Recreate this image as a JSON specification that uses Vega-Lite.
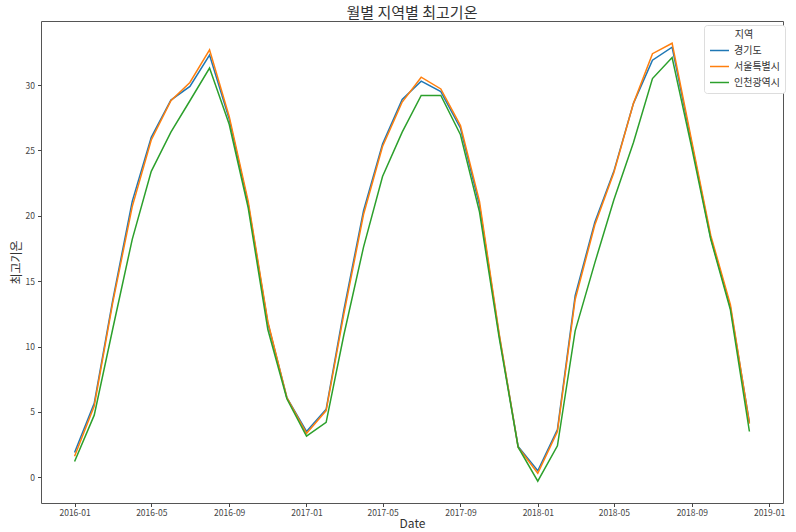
{
  "$schema": "https://vega.github.io/schema/vega-lite/v6.json",
  "width": 742,
  "height": 482,
  "autosize": {"type": "none"},
  "padding": {"left": 41, "top": 21, "right": 13, "bottom": 29},
  "background": "white",
  "config": {
    "font": "Noto Sans CJK KR",
    "view": {"stroke": "#555555", "strokeWidth": 1}
  },
  "title": {
    "text": "월별 지역별 최고기온",
    "fontSize": 15,
    "fontWeight": "normal",
    "color": "#333333",
    "anchor": "middle",
    "offset": 3,
    "dy": 3,
    "font": "Noto Sans CJK KR"
  },
  "datasets": {
    "temps": [
      {"date": "2016-01-01", "region": "경기도", "value": 1.9},
      {"date": "2016-02-01", "region": "경기도", "value": 5.65},
      {"date": "2016-03-01", "region": "경기도", "value": 13.5},
      {"date": "2016-04-01", "region": "경기도", "value": 21.1},
      {"date": "2016-05-01", "region": "경기도", "value": 26.0},
      {"date": "2016-06-01", "region": "경기도", "value": 28.85},
      {"date": "2016-07-01", "region": "경기도", "value": 29.9},
      {"date": "2016-08-01", "region": "경기도", "value": 32.3},
      {"date": "2016-09-01", "region": "경기도", "value": 27.4},
      {"date": "2016-10-01", "region": "경기도", "value": 20.9},
      {"date": "2016-11-01", "region": "경기도", "value": 11.8},
      {"date": "2016-12-01", "region": "경기도", "value": 6.1},
      {"date": "2017-01-01", "region": "경기도", "value": 3.5},
      {"date": "2017-02-01", "region": "경기도", "value": 5.2},
      {"date": "2017-03-01", "region": "경기도", "value": 12.8},
      {"date": "2017-04-01", "region": "경기도", "value": 20.4},
      {"date": "2017-05-01", "region": "경기도", "value": 25.5},
      {"date": "2017-06-01", "region": "경기도", "value": 28.9},
      {"date": "2017-07-01", "region": "경기도", "value": 30.3},
      {"date": "2017-08-01", "region": "경기도", "value": 29.5},
      {"date": "2017-09-01", "region": "경기도", "value": 26.7},
      {"date": "2017-10-01", "region": "경기도", "value": 20.8},
      {"date": "2017-11-01", "region": "경기도", "value": 10.9},
      {"date": "2017-12-01", "region": "경기도", "value": 2.35},
      {"date": "2018-01-01", "region": "경기도", "value": 0.5},
      {"date": "2018-02-01", "region": "경기도", "value": 3.65},
      {"date": "2018-03-01", "region": "경기도", "value": 13.9},
      {"date": "2018-04-01", "region": "경기도", "value": 19.5},
      {"date": "2018-05-01", "region": "경기도", "value": 23.4},
      {"date": "2018-06-01", "region": "경기도", "value": 28.6},
      {"date": "2018-07-01", "region": "경기도", "value": 31.9},
      {"date": "2018-08-01", "region": "경기도", "value": 32.9},
      {"date": "2018-09-01", "region": "경기도", "value": 25.5},
      {"date": "2018-10-01", "region": "경기도", "value": 18.3},
      {"date": "2018-11-01", "region": "경기도", "value": 13.0},
      {"date": "2018-12-01", "region": "경기도", "value": 4.2},
      {"date": "2016-01-01", "region": "서울특별시", "value": 1.6},
      {"date": "2016-02-01", "region": "서울특별시", "value": 5.45},
      {"date": "2016-03-01", "region": "서울특별시", "value": 13.3},
      {"date": "2016-04-01", "region": "서울특별시", "value": 20.7},
      {"date": "2016-05-01", "region": "서울특별시", "value": 25.8},
      {"date": "2016-06-01", "region": "서울특별시", "value": 28.8},
      {"date": "2016-07-01", "region": "서울특별시", "value": 30.2},
      {"date": "2016-08-01", "region": "서울특별시", "value": 32.7},
      {"date": "2016-09-01", "region": "서울특별시", "value": 27.6},
      {"date": "2016-10-01", "region": "서울특별시", "value": 21.1},
      {"date": "2016-11-01", "region": "서울특별시", "value": 11.9},
      {"date": "2016-12-01", "region": "서울특별시", "value": 6.1},
      {"date": "2017-01-01", "region": "서울특별시", "value": 3.35},
      {"date": "2017-02-01", "region": "서울특별시", "value": 5.1},
      {"date": "2017-03-01", "region": "서울특별시", "value": 12.5},
      {"date": "2017-04-01", "region": "서울특별시", "value": 20.1},
      {"date": "2017-05-01", "region": "서울특별시", "value": 25.3},
      {"date": "2017-06-01", "region": "서울특별시", "value": 28.7},
      {"date": "2017-07-01", "region": "서울특별시", "value": 30.6},
      {"date": "2017-08-01", "region": "서울특별시", "value": 29.7},
      {"date": "2017-09-01", "region": "서울특별시", "value": 26.9},
      {"date": "2017-10-01", "region": "서울특별시", "value": 21.1},
      {"date": "2017-11-01", "region": "서울특별시", "value": 11.0},
      {"date": "2017-12-01", "region": "서울특별시", "value": 2.3},
      {"date": "2018-01-01", "region": "서울특별시", "value": 0.3},
      {"date": "2018-02-01", "region": "서울특별시", "value": 3.5},
      {"date": "2018-03-01", "region": "서울특별시", "value": 13.6},
      {"date": "2018-04-01", "region": "서울특별시", "value": 19.3},
      {"date": "2018-05-01", "region": "서울특별시", "value": 23.3},
      {"date": "2018-06-01", "region": "서울특별시", "value": 28.6},
      {"date": "2018-07-01", "region": "서울특별시", "value": 32.4},
      {"date": "2018-08-01", "region": "서울특별시", "value": 33.2},
      {"date": "2018-09-01", "region": "서울특별시", "value": 25.7},
      {"date": "2018-10-01", "region": "서울특별시", "value": 18.5},
      {"date": "2018-11-01", "region": "서울특별시", "value": 13.2},
      {"date": "2018-12-01", "region": "서울특별시", "value": 4.1},
      {"date": "2016-01-01", "region": "인천광역시", "value": 1.2},
      {"date": "2016-02-01", "region": "인천광역시", "value": 4.75},
      {"date": "2016-03-01", "region": "인천광역시", "value": 11.3},
      {"date": "2016-04-01", "region": "인천광역시", "value": 18.2},
      {"date": "2016-05-01", "region": "인천광역시", "value": 23.4},
      {"date": "2016-06-01", "region": "인천광역시", "value": 26.4},
      {"date": "2016-07-01", "region": "인천광역시", "value": 28.8},
      {"date": "2016-08-01", "region": "인천광역시", "value": 31.3},
      {"date": "2016-09-01", "region": "인천광역시", "value": 27.0},
      {"date": "2016-10-01", "region": "인천광역시", "value": 20.6},
      {"date": "2016-11-01", "region": "인천광역시", "value": 11.3},
      {"date": "2016-12-01", "region": "인천광역시", "value": 6.0},
      {"date": "2017-01-01", "region": "인천광역시", "value": 3.15},
      {"date": "2017-02-01", "region": "인천광역시", "value": 4.2},
      {"date": "2017-03-01", "region": "인천광역시", "value": 10.9},
      {"date": "2017-04-01", "region": "인천광역시", "value": 17.6},
      {"date": "2017-05-01", "region": "인천광역시", "value": 23.0},
      {"date": "2017-06-01", "region": "인천광역시", "value": 26.4},
      {"date": "2017-07-01", "region": "인천광역시", "value": 29.2},
      {"date": "2017-08-01", "region": "인천광역시", "value": 29.2},
      {"date": "2017-09-01", "region": "인천광역시", "value": 26.2},
      {"date": "2017-10-01", "region": "인천광역시", "value": 20.3},
      {"date": "2017-11-01", "region": "인천광역시", "value": 10.7},
      {"date": "2017-12-01", "region": "인천광역시", "value": 2.3},
      {"date": "2018-01-01", "region": "인천광역시", "value": -0.3},
      {"date": "2018-02-01", "region": "인천광역시", "value": 2.4},
      {"date": "2018-03-01", "region": "인천광역시", "value": 11.2},
      {"date": "2018-04-01", "region": "인천광역시", "value": 16.4},
      {"date": "2018-05-01", "region": "인천광역시", "value": 21.2},
      {"date": "2018-06-01", "region": "인천광역시", "value": 25.6},
      {"date": "2018-07-01", "region": "인천광역시", "value": 30.5},
      {"date": "2018-08-01", "region": "인천광역시", "value": 32.1},
      {"date": "2018-09-01", "region": "인천광역시", "value": 25.2},
      {"date": "2018-10-01", "region": "인천광역시", "value": 18.2},
      {"date": "2018-11-01", "region": "인천광역시", "value": 12.8},
      {"date": "2018-12-01", "region": "인천광역시", "value": 3.5}
    ]
  },
  "data": {"name": "temps"},
  "mark": {"type": "line", "strokeWidth": 1.5, "clip": true},
  "encoding": {
    "x": {
      "field": "date",
      "type": "temporal",
      "title": "Date",
      "scale": {
        "type": "utc",
        "domain": [
          {"year": 2015, "month": 11, "date": 9, "utc": true},
          {"year": 2019, "month": 1, "date": 23, "utc": true}
        ],
        "nice": false
      },
      "axis": {
        "values": [
          {"year": 2016, "month": 1, "date": 1, "utc": true},
          {"year": 2016, "month": 5, "date": 1, "utc": true},
          {"year": 2016, "month": 9, "date": 1, "utc": true},
          {"year": 2017, "month": 1, "date": 1, "utc": true},
          {"year": 2017, "month": 5, "date": 1, "utc": true},
          {"year": 2017, "month": 9, "date": 1, "utc": true},
          {"year": 2018, "month": 1, "date": 1, "utc": true},
          {"year": 2018, "month": 5, "date": 1, "utc": true},
          {"year": 2018, "month": 9, "date": 1, "utc": true},
          {"year": 2019, "month": 1, "date": 1, "utc": true}
        ],
        "labelExpr": "utcFormat(datum.value, '%Y-%m')",
        "grid": false,
        "domain": false,
        "tickSize": 3.5,
        "tickColor": "#444444",
        "labelPadding": 2,
        "labelFontSize": 8.5,
        "labelColor": "#444444",
        "labelFont": "Noto Sans CJK KR",
        "labelFlush": false,
        "labelOverlap": false,
        "titleFontSize": 12,
        "titleFontWeight": "normal",
        "titleColor": "#333333",
        "titleFont": "Noto Sans CJK KR",
        "titleY": 20,
        "titleBaseline": "middle"
      }
    },
    "y": {
      "field": "value",
      "type": "quantitative",
      "title": "최고기온",
      "scale": {"domain": [-1.97, 34.9], "nice": false, "zero": false},
      "axis": {
        "values": [0, 5, 10, 15, 20, 25, 30],
        "grid": false,
        "domain": false,
        "tickSize": 3.5,
        "tickColor": "#444444",
        "labelPadding": 3,
        "labelFontSize": 8.5,
        "labelColor": "#444444",
        "labelFont": "Noto Sans CJK KR",
        "labelFlush": false,
        "titleFontSize": 12,
        "titleFontWeight": "normal",
        "titleColor": "#333333",
        "titleFont": "Noto Sans CJK KR",
        "titleX": -25,
        "titleY": 241,
        "titleAngle": -90,
        "titleBaseline": "middle",
        "titleAlign": "center"
      }
    },
    "color": {
      "field": "region",
      "type": "nominal",
      "title": "지역",
      "scale": {
        "domain": ["경기도", "서울특별시", "인천광역시"],
        "range": ["#1f77b4", "#ff7f0e", "#2ca02c"]
      },
      "legend": {
        "orient": "none",
        "legendX": 663,
        "legendY": 4,
        "symbolType": "stroke",
        "symbolSize": 361,
        "symbolStrokeWidth": 1.5,
        "labelFontSize": 10,
        "labelColor": "#333333",
        "labelFont": "Noto Sans CJK KR",
        "titleFontSize": 10,
        "titleFontWeight": "normal",
        "titleColor": "#333333",
        "titleFont": "Noto Sans CJK KR",
        "titleAnchor": "middle",
        "titlePadding": 0,
        "rowPadding": -5,
        "padding": 5,
        "strokeColor": "#dddddd",
        "fillColor": "white",
        "cornerRadius": 3
      }
    }
  }
}
